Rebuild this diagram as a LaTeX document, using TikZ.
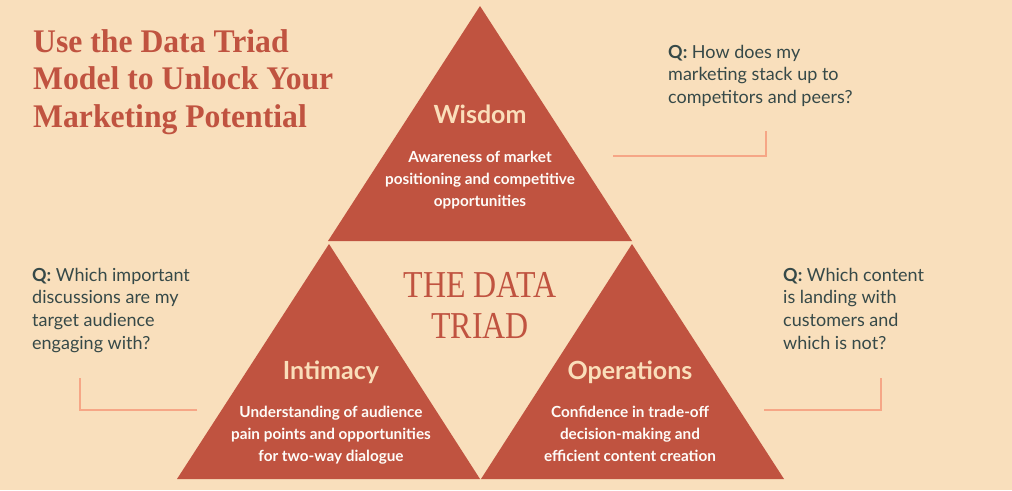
\documentclass[tikz,border=0pt]{standalone}
\usepackage{fontspec}
\setmainfont{Lato}
\newfontfamily\titlefont[FakeStretch=0.96]{Liberation Serif}
\newfontfamily\triadfont[FakeStretch=0.84]{Liberation Serif}
\usetikzlibrary{positioning}

\definecolor{triadred}{RGB}{192,83,64}
\definecolor{paper}{RGB}{249,223,188}
\definecolor{peach}{RGB}{250,222,186}
\definecolor{slate}{RGB}{54,73,72}
\definecolor{salmon}{RGB}{246,166,134}

\begin{document}
\begin{tikzpicture}[
    x=1pt, y=-1pt,
    wedge/.style={fill=triadred},
    heading/.style={font=\fontsize{25}{30}\selectfont\bfseries, text=peach, inner sep=0pt, anchor=base},
    blurb/.style={font=\fontsize{15.3}{22}\selectfont\bfseries, text=white!90!peach, align=center, inner sep=0pt},
    question/.style={font=\fontsize{18}{22.7}\selectfont, text=slate, align=left, inner sep=0pt, anchor=north west},
    bracket/.style={draw=salmon, line width=1.6pt}
]
    % Background
    \fill[paper] (0,0) rectangle (1012,490);

    % Title
    \node[font=\titlefont\fontsize{33}{37.5}\selectfont\bfseries, text=triadred, align=left, inner sep=0pt, anchor=north west] (title) at (33,29)
        {Use the Data Triad\\Model to Unlock Your\\Marketing Potential};

    % Triangles
    \fill[wedge] (480,6) -- (632,241) -- (328,241) -- cycle;
    \fill[wedge] (329,244) -- (480,479) -- (177,479) -- cycle;
    \fill[wedge] (632,244) -- (784,479) -- (481,479) -- cycle;

    % Centre label
    \node[font=\triadfont\fontsize{38}{41}\selectfont, text=triadred, align=center, inner sep=0pt, anchor=north] (triad) at (480,272)
        {THE DATA\\TRIAD};

    % Top Layer (Wisdom)
    \node[heading] (wis) at (480,123) {Wisdom};
    \node[blurb, below=27.5pt of wis.base] (wisT) {Awareness of market\\positioning and competitive\\opportunities};

    % Bottom Layer (Intimacy & Operations)
    \node[heading] (int) at (331,379) {Intimacy};
    \node[blurb, below=27pt of int.base] (intT) {Understanding of audience\\pain points and opportunities\\for two-way dialogue};
    \node[heading] (ops) at (630,379) {Operations};
    \node[blurb, below=27pt of ops.base] (opsT) {Confidence in trade-off\\decision-making and\\efficient content creation};

    % Questions
    \node[question] (wisQ) at (668,44.8) {\textbf{Q:} How does my\\marketing stack up to\\competitors and peers?};
    \node[question] (intQ) at (32,267.8) {\textbf{Q:} Which important\\discussions are my\\target audience\\engaging with?};
    \node[question] (opsQ) at (783,267.8) {\textbf{Q:} Which content\\is landing with\\customers and\\which is not?};

    % Brackets
    \coordinate (wisA) at (613,156);
    \coordinate (wisB) at (766,131);
    \coordinate (intA) at (197,410);
    \coordinate (intB) at (80,378);
    \coordinate (opsA) at (764,410);
    \coordinate (opsB) at (881,378);
    \draw[bracket] (wisA) -| (wisB);
    \draw[bracket] (intA) -| (intB);
    \draw[bracket] (opsA) -| (opsB);
\end{tikzpicture}
\end{document}
